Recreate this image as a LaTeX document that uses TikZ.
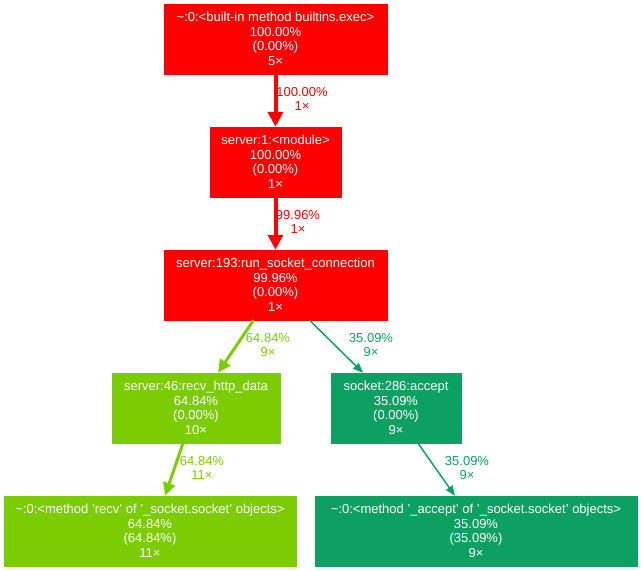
\documentclass[tikz,border=0pt]{standalone}
\usepackage{fontspec}
\setmainfont{Liberation Sans}
\usetikzlibrary{arrows.meta}

\definecolor{hot}{HTML}{FF0000}
\definecolor{warm}{HTML}{7CCC04}
\definecolor{cool}{HTML}{0CA062}

\begin{document}
\begin{tikzpicture}[
x=1pt, y=-1pt,
fn/.style={
fill=#1,
draw=#1,
text=white,
align=center,
inner sep=0pt,
minimum height=70pt,
font=\fontsize{13}{14.5}\selectfont
},
lbl/.style={
text=#1,
align=center,
inner sep=0pt,
font=\fontsize{13}{14.5}\selectfont
},
call/.style={
draw=#1,
line width=1.5pt,
-{Triangle[length=10pt,width=8pt]}
},
fat/.style={
draw=#1,
line width=4pt,
-{Triangle[length=15pt,width=15pt]}
}
]

\useasboundingbox (0,0) rectangle (641,571);

\node[fn=hot, minimum width=223pt] (E) at (275.5,39)
{\textasciitilde:0:<built-in method builtins.exec>\\100.00\%\\(0.00\%)\\5×};

\node[fn=hot, minimum width=131pt] (M) at (275.5,162)
{server:1:<module>\\100.00\%\\(0.00\%)\\1×};

\node[fn=hot, minimum width=223pt] (R) at (275.5,285)
{server:193:run\_socket\_connection\\99.96\%\\(0.00\%)\\1×};

\node[fn=warm, minimum width=168pt] (H) at (196,408)
{server:46:recv\_http\_data\\64.84\%\\(0.00\%)\\10×};

\node[fn=cool, minimum width=130pt] (A) at (396,408)
{socket:286:accept\\35.09\%\\(0.00\%)\\9×};

\node[fn=warm, minimum width=292pt] (V) at (150,531)
{\textasciitilde:0:<method 'recv' of '\_socket.socket' objects>\\64.84\%\\(64.84\%)\\11×};

\node[fn=cool, minimum width=322pt] (X) at (476,531)
{\textasciitilde:0:<method '\_accept' of '\_socket.socket' objects>\\35.09\%\\(35.09\%)\\9×};

\draw[fat=hot] (E) -- (M);
\draw[fat=hot] (M) -- (R);
\draw[call=warm, line width=3pt, -{Triangle[length=13pt,width=12pt]}]
([xshift=-22pt]R.south) -- ([xshift=22pt]H.north);
\draw[call=cool] ([xshift=34pt]R.south) -- ([xshift=-33pt]A.north);
\draw[call=warm, line width=3pt, -{Triangle[length=13pt,width=12pt]}]
([xshift=-13pt]H.south) -- ([xshift=15pt]V.north);
\draw[call=cool] ([xshift=22pt]A.south) -- ([xshift=-21pt]X.north);

\node[lbl=hot] (l1) at (302,99) {100.00\%\\1×};
\node[lbl=hot] (l2) at (298,222) {99.96\%\\1×};
\node[lbl=warm] (l3) at (268,345) {64.84\%\\9×};
\node[lbl=cool] (l4) at (371,345) {35.09\%\\9×};
\node[lbl=warm] (l5) at (202,468) {64.84\%\\11×};
\node[lbl=cool] (l6) at (467,468) {35.09\%\\9×};

\end{tikzpicture}
\end{document}
